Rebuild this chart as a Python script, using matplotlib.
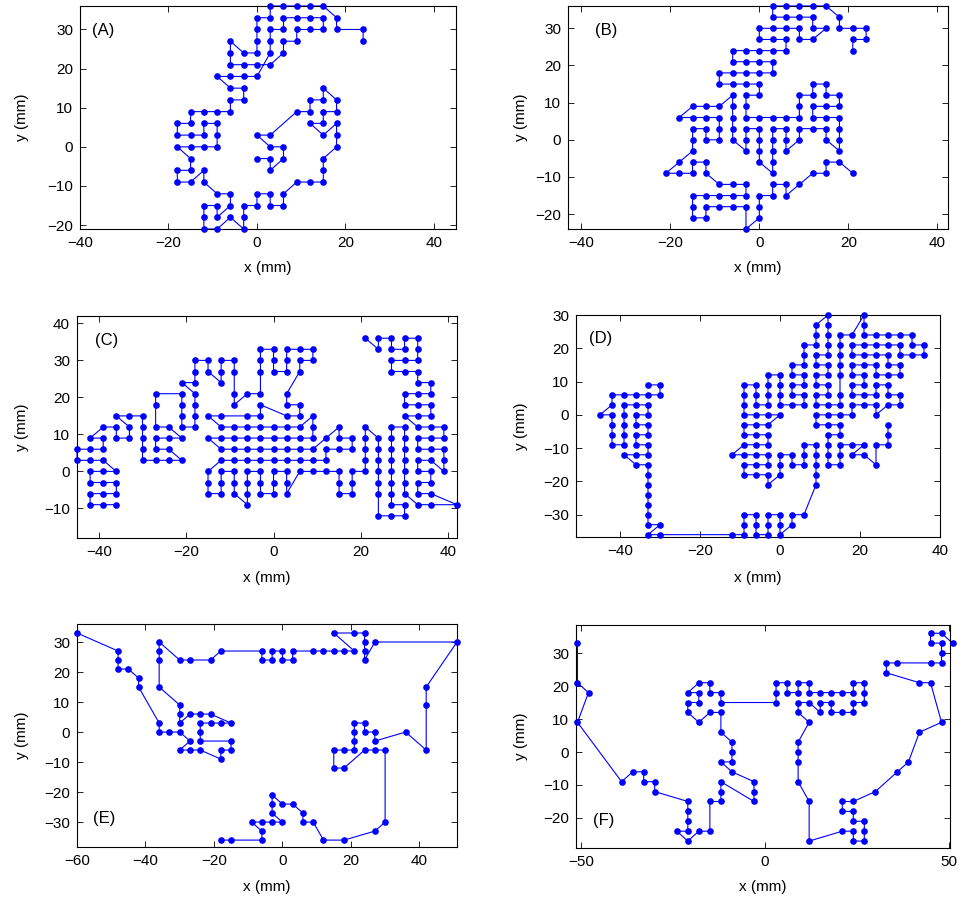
import matplotlib
matplotlib.use('Agg')
import matplotlib.pyplot as plt

plt.rcParams['font.family'] = ['Liberation Sans', 'DejaVu Sans']

# tours, (x, y) in mm, in drawing order
path_a = [(24, 27), (24, 30), (18, 30), (18, 33), (15, 36), (12, 36), (9, 36), (6, 36), (3, 36), (3, 33),
          (0, 33), (0, 30), (0, 27), (0, 24), (-3, 24), (-6, 27), (-6, 24), (-6, 21), (-3, 21), (0, 21),
          (3, 21), (6, 24), (6, 27), (9, 27), (9, 30), (12, 30), (15, 30), (15, 33), (12, 33), (9, 33),
          (6, 33), (6, 30), (3, 30), (3, 27), (3, 24), (0, 18), (-3, 18), (-6, 18), (-9, 18), (-6, 15),
          (-3, 15), (-3, 12), (-6, 12), (-6, 9), (-9, 9), (-12, 9), (-15, 9), (-15, 6), (-18, 6), (-18, 3),
          (-15, 3), (-12, 3), (-12, 6), (-9, 6), (-9, 3), (-9, 0), (-12, 0), (-15, 0), (-18, 0), (-15, -3),
          (-15, -6), (-18, -6), (-18, -9), (-15, -9), (-12, -6), (-12, -9), (-9, -12), (-6, -12), (-6, -15),
          (-9, -18), (-9, -15), (-12, -15), (-12, -18), (-12, -21), (-9, -21), (-6, -18), (-3, -21), (-3, -18),
          (-3, -15), (0, -15), (0, -12), (3, -12), (3, -15), (6, -15), (6, -12), (9, -9), (12, -9), (15, -9),
          (15, -6), (15, -3), (18, 0), (18, 3), (18, 6), (15, 3), (12, 6), (15, 6), (15, 9), (18, 9),
          (18, 12), (15, 15), (15, 12), (12, 12), (12, 9), (9, 9), (3, 3), (0, 3), (3, 0), (6, 0),
          (6, -3), (3, -6), (3, -3), (0, -3)]

path_b = [(21, 24), (21, 27), (24, 27), (24, 30), (21, 30), (18, 30), (18, 33), (15, 36), (12, 36), (9, 36),
          (6, 36), (3, 36), (3, 33), (6, 33), (9, 33), (12, 33), (12, 30), (15, 30), (12, 27), (9, 27),
          (9, 30), (6, 30), (3, 30), (0, 30), (0, 27), (3, 27), (6, 27), (6, 24), (3, 24), (0, 24),
          (-3, 24), (-6, 24), (-6, 21), (-3, 21), (0, 21), (3, 21), (3, 18), (0, 18), (-3, 18), (-6, 18),
          (-9, 18), (-9, 15), (-6, 15), (-3, 15), (0, 15), (0, 12), (-3, 12), (-3, 9), (-3, 6), (0, 6),
          (3, 6), (6, 6), (9, 6), (9, 9), (9, 12), (12, 12), (12, 15), (15, 15), (15, 12), (18, 12),
          (18, 9), (15, 9), (12, 9), (12, 6), (15, 6), (18, 6), (18, 3), (18, 0), (18, -3), (15, 0),
          (15, 3), (12, 3), (9, 3), (9, 0), (6, -3), (6, 0), (6, 3), (3, 3), (3, 0), (3, -3),
          (3, -6), (3, -9), (0, -6), (0, -3), (0, 0), (0, 3), (-3, 3), (-3, 0), (-3, -3), (-6, 0),
          (-6, 3), (-6, 6), (-6, 9), (-6, 12), (-9, 9), (-12, 9), (-15, 9), (-18, 6), (-15, 6), (-12, 6),
          (-9, 6), (-9, 3), (-9, 0), (-12, 0), (-12, 3), (-15, 3), (-15, 0), (-15, -3), (-18, -6), (-21, -9),
          (-18, -9), (-15, -9), (-15, -6), (-12, -6), (-12, -9), (-9, -12), (-6, -12), (-3, -12), (-3, -15),
          (-6, -15), (-9, -15), (-12, -15), (-15, -15), (-15, -18), (-15, -21), (-12, -21), (-12, -18),
          (-9, -18), (-6, -18), (-3, -18), (-3, -24), (0, -21), (0, -18), (0, -15), (3, -15), (3, -12),
          (6, -12), (6, -15), (9, -12), (12, -9), (15, -9), (15, -6), (18, -6), (21, -9)]

path_c = [(-36, -9), (-39, -9), (-42, -9), (-42, -6), (-39, -6), (-36, -6), (-36, -3), (-39, -3), (-42, -3),
          (-42, 0), (-39, 0), (-36, 0), (-39, 3), (-42, 3), (-45, 3), (-45, 6), (-42, 6), (-39, 6), (-39, 9),
          (-42, 9), (-39, 12), (-36, 12), (-36, 9), (-33, 9), (-33, 12), (-36, 15), (-33, 15), (-30, 15),
          (-30, 12), (-30, 9), (-30, 6), (-30, 3), (-27, 3), (-24, 3), (-21, 3), (-24, 6), (-27, 6), (-27, 9),
          (-24, 9), (-21, 9), (-24, 12), (-27, 12), (-27, 18), (-27, 21), (-21, 21),
          (-21, 18), (-21, 15), (-21, 12), (-18, 12), (-18, 15), (-18, 18), (-18, 21), (-21, 24), (-18, 24),
          (-18, 27), (-18, 30), (-15, 30), (-15, 27), (-12, 24), (-12, 27), (-12, 30), (-9, 30), (-9, 27),
          (-9, 21), (-9, 18), (-6, 21), (-3, 21), (-3, 27), (-3, 30), (-3, 33), (0, 33), (0, 30), (0, 27),
          (3, 27), (3, 30), (3, 33), (6, 33), (9, 33), (9, 30), (6, 30), (6, 27), (3, 21), (3, 18),
          (6, 18), (6, 15), (3, 15), (-3, 18), (-3, 15), (-6, 15), (-12, 15), (-15, 15), (-12, 12), (-9, 12),
          (-6, 12), (-3, 12), (0, 12), (3, 12), (6, 12), (9, 15), (9, 12), (9, 9), (6, 9), (3, 9),
          (0, 9), (-3, 9), (-6, 9), (-9, 9), (-12, 9), (-15, 9), (-12, 6), (-9, 6), (-6, 6), (-3, 6),
          (0, 6), (3, 6), (6, 6), (9, 6), (12, 9), (15, 12), (15, 9), (18, 9), (18, 6), (15, 6),
          (12, 6), (12, 3), (9, 3), (6, 3), (3, 3), (0, 3), (-3, 3), (-6, 3), (-9, 3), (-12, 3),
          (-15, 0), (-15, -3), (-15, -6), (-12, -6), (-12, -3), (-12, 0), (-9, 0), (-9, -3), (-9, -6),
          (-6, -9), (-6, -6), (-6, -3), (-6, 0), (-3, 0), (-3, -3), (-3, -6), (0, -6), (0, -3), (0, 0),
          (3, 0), (3, -3), (3, -6), (6, 0), (9, 0), (12, 0), (15, 0), (15, -3), (15, -6), (18, -6),
          (18, -3), (18, 0), (21, 0), (21, 3), (21, 6), (21, 9), (21, 12), (24, 9), (24, 6), (24, 3),
          (24, 0), (24, -3), (24, -6), (24, -12), (27, -12), (30, -12), (30, -9), (27, -9), (27, -6),
          (27, -3), (27, 0), (27, 3), (27, 6), (27, 9), (27, 12), (30, 12), (30, 9), (30, 6), (30, 3),
          (30, 0), (30, -3), (30, -6), (33, -9), (36, -9), (42, -9), (36, -6), (33, -6), (33, -3), (36, -3),
          (36, 0), (33, 0), (33, 3), (36, 3), (39, 0), (39, 3), (39, 6), (36, 6), (33, 6), (33, 9),
          (36, 9), (39, 9), (39, 12), (36, 12), (33, 12), (30, 15), (33, 15), (36, 15), (36, 18), (33, 18),
          (30, 18), (30, 21), (33, 21), (36, 21), (36, 24), (33, 24), (33, 27), (30, 27), (27, 27), (27, 30),
          (30, 30), (33, 30), (33, 33), (33, 36), (30, 36), (30, 33), (27, 33), (27, 36), (24, 36), (24, 33),
          (21, 36)]

path_d = [(-33, 9), (-30, 9), (-30, 6), (-33, 6), (-36, 6), (-39, 6), (-42, 6), (-42, 3), (-45, 0), (-42, 0),
          (-42, -3), (-42, -6), (-42, -9), (-39, -9), (-39, -6), (-39, -3), (-39, 0), (-39, 3), (-36, 3),
          (-33, 3), (-33, 0), (-36, 0), (-36, -3), (-33, -3), (-33, -6), (-36, -6), (-36, -9), (-33, -9),
          (-33, -12), (-36, -12), (-39, -12), (-36, -15), (-33, -15), (-33, -18), (-33, -21), (-33, -24),
          (-33, -27), (-33, -30), (-33, -33), (-30, -33), (-33, -36), (-30, -36), (-12, -36), (-9, -36),
          (-9, -33), (-9, -30), (-6, -30), (-6, -33), (-6, -36), (-3, -36), (-3, -33), (-3, -30), (0, -30),
          (0, -33), (0, -36), (3, -33), (3, -30), (6, -30), (9, -21), (9, -18), (9, -15), (9, -12), (9, -9),
          (6, -9), (6, -12), (6, -15), (3, -15), (3, -12), (0, -12), (0, -15), (0, -18), (-3, -21), (-3, -18),
          (-6, -18), (-9, -18), (-9, -15), (-6, -15), (-3, -15), (-3, -12), (-6, -12), (-9, -12), (-12, -12),
          (-9, -9), (-6, -9), (-3, -9), (-3, -6), (-6, -6), (-9, -6), (-9, -3), (-6, -3), (-3, -3), (0, 0),
          (-3, 0), (-6, 0), (-9, 0), (-9, 3), (-9, 6), (-9, 9), (-6, 9), (-6, 6), (-6, 3), (-3, 3),
          (-3, 6), (-3, 9), (-3, 12), (0, 12), (0, 9), (0, 6), (0, 3), (3, 3), (6, 3), (6, 6),
          (3, 6), (3, 9), (6, 9), (6, 12), (3, 12), (3, 15), (6, 15), (6, 18), (6, 21),
          (9, 21), (9, 24), (9, 27), (12, 30), (12, 27), (12, 24), (12, 21), (12, 18), (9, 18), (9, 15),
          (12, 15), (12, 12), (9, 12), (9, 9), (12, 9), (12, 6), (9, 6), (9, 3), (12, 3), (15, 3),
          (15, 6), (15, 12), (15, 15), (15, 18), (15, 21), (15, 24), (18, 24), (21, 30), (21, 27), (21, 24),
          (24, 24), (27, 24), (30, 24), (33, 24), (33, 21), (36, 21), (36, 18), (33, 18), (30, 18), (30, 21),
          (27, 21), (24, 21), (21, 21), (18, 21), (18, 18), (21, 18), (24, 18), (27, 18), (27, 15), (30, 15),
          (30, 12), (27, 12), (24, 12), (24, 15), (21, 15), (18, 15), (18, 12), (21, 12), (21, 9), (18, 9),
          (18, 6), (21, 6), (24, 6), (24, 9), (27, 9), (27, 6), (30, 6), (30, 3), (27, 3), (24, 0),
          (24, 3), (21, 3), (18, 3), (18, 0), (15, 0), (12, 0), (9, 0), (9, -3), (12, -3), (15, -3),
          (15, -6), (12, -6), (12, -9), (12, -12), (12, -15), (15, -15), (15, -12), (15, -9), (18, -9),
          (21, -9), (18, -12), (21, -12), (24, -15), (24, -9), (27, -9), (27, -6), (27, -3)]

path_e = [(-60, 33), (-48, 27), (-48, 24), (-48, 21), (-45, 21), (-42, 18), (-42, 15), (-36, 3), (-36, 0),
          (-33, 0), (-30, 0), (-27, -3), (-30, -6), (-27, -6), (-24, -6), (-18, -9), (-18, -6), (-15, -6),
          (-15, -3), (-24, -3), (-24, 0), (-24, 3), (-21, 3), (-18, 3), (-15, 3), (-21, 6), (-24, 6),
          (-27, 6), (-30, 3), (-30, 6), (-30, 9), (-36, 15), (-36, 24), (-36, 27), (-36, 30), (-30, 24),
          (-27, 24), (-21, 24), (-18, 27), (-6, 27), (-6, 24), (-3, 24), (-3, 27), (0, 27), (0, 24), (3, 24),
          (3, 27), (9, 27), (12, 27), (15, 27), (18, 27), (21, 27), (15, 33), (21, 33), (24, 33), (24, 30),
          (24, 27), (24, 24), (27, 30), (51, 30), (42, 15), (42, 9), (42, -6), (36, 0), (27, -3), (27, 0),
          (24, 0), (24, 3), (21, 3), (21, 0), (21, -3), (21, -6), (18, -6), (15, -6), (15, -12), (18, -12),
          (24, -6), (27, -6), (30, -6), (30, -30), (27, -33), (18, -36), (12, -36), (9, -30), (6, -30),
          (6, -27), (3, -24), (0, -24), (-3, -21), (-3, -24), (-3, -27), (0, -30), (-3, -30), (-6, -30),
          (-9, -30), (-6, -33), (-6, -36), (-15, -36), (-18, -36)]

path_f = [(-51, 33), (-51, 21), (-48, 18), (-51, 9), (-39, -9), (-36, -6), (-33, -6), (-33, -9), (-30, -9),
          (-30, -12), (-21, -15), (-21, -18), (-21, -21), (-21, -24), (-24, -24), (-21, -27), (-18, -24),
          (-15, -24), (-15, -15), (-12, -15), (-12, -12), (-12, -9), (-3, -15), (-3, -12), (-3, -9), (-9, -6),
          (-12, -3), (-9, -3), (-9, 0), (-9, 3), (-12, 6), (-12, 12), (-15, 12), (-18, 9), (-21, 12),
          (-21, 15), (-18, 15), (-18, 18), (-21, 18), (-18, 21), (-15, 21), (-15, 18), (-12, 18), (-12, 15),
          (3, 15), (3, 18), (3, 21), (6, 21), (6, 18), (9, 18), (9, 21), (12, 21), (12, 18), (15, 18),
          (18, 18), (21, 18), (24, 18), (24, 21), (27, 21), (27, 18), (27, 15), (24, 15), (24, 12), (21, 12),
          (18, 12), (18, 15), (15, 15), (15, 12), (12, 15), (9, 15), (9, 12), (12, 9), (9, 3), (9, 0),
          (9, -3), (9, -9), (12, -15), (12, -27), (21, -24), (24, -24), (24, -27), (27, -27), (27, -24),
          (27, -21), (24, -21), (24, -18), (21, -18), (21, -15), (24, -15), (30, -12), (36, -6), (39, -3),
          (42, 6), (48, 9), (45, 21), (42, 21), (33, 24), (33, 27), (36, 27), (45, 27), (48, 27), (48, 30),
          (48, 33), (45, 33), (45, 36), (48, 36), (51, 33)]

paths = [path_a, path_b, path_c, path_d, path_e, path_f]
letters = ['(A)', '(B)', '(C)', '(D)', '(E)', '(F)']

x_limits = [(-40, 45), (-43, 42.4), (-45, 42), (-51, 40), (-60, 51), (-51.4, 50.3)]
y_limits = [(-21, 36), (-24, 36), (-18, 42), (-36.7, 30), (-38.3, 36), (-29.1, 38.5)]
x_ticks = [[-40, -20, 0, 20, 40], [-40, -20, 0, 20, 40], [-40, -20, 0, 20, 40],
           [-40, -20, 0, 20, 40], [-60, -40, -20, 0, 20, 40], [-50, 0, 50]]
y_ticks = [[-20, -10, 0, 10, 20, 30], [-20, -10, 0, 10, 20, 30], [-10, 0, 10, 20, 30, 40],
           [-30, -20, -10, 0, 10, 20, 30], [-30, -20, -10, 0, 10, 20, 30], [-20, -10, 0, 10, 20, 30]]

# layout in pixels: axes box (left, right, top, bottom), letter pos, label pos
W, H = 964, 909
boxes = [(80, 456, 6, 229), (568, 948, 6, 229), (77, 457, 316, 538),
         (576, 940, 315, 537), (77, 457, 624, 847), (576, 950, 625, 848)]
letter_xy = [(92, 30), (595, 30), (95, 340), (589, 338), (93, 818), (593, 820)]
xlabel_y = [268, 268, 578, 578, 887, 887]
ylabel_x = [22, 521, 22, 521, 22, 521]

fig = plt.figure(figsize=(W / 100, H / 100), dpi=100)

for i in range(6):
    l, r, t, b = boxes[i]
    ax = fig.add_axes([l / W, 1 - b / H, (r - l) / W, (b - t) / H])
    xs = [p[0] for p in paths[i]]
    ys = [p[1] for p in paths[i]]
    ax.plot(xs, ys, '-', color='blue', lw=0.8, clip_on=False, zorder=2)
    ax.plot(xs, ys, 'o', color='blue', ms=4.8, mew=0, clip_on=False, zorder=3)

    ax.set_xlim(*x_limits[i])
    ax.set_ylim(*y_limits[i])
    ax.set_xticks(x_ticks[i])
    ax.set_yticks(y_ticks[i])
    ax.set_xticklabels([str(v).replace('-', '\u2212') for v in x_ticks[i]])
    ax.set_yticklabels([str(v).replace('-', '\u2212') for v in y_ticks[i]])
    ax.tick_params(direction='in', top=True, right=True, length=4, width=0.6,
                   labelsize=11, pad=5)
    for s in ax.spines.values():
        s.set_linewidth(0.8)

    ax.set_xlabel('x (mm)', fontsize=11, va='center')
    ax.xaxis.set_label_coords(0.5, (b - xlabel_y[i]) / (b - t))
    ax.set_ylabel('y (mm)', fontsize=11, va='center')
    ax.yaxis.set_label_coords((ylabel_x[i] - l) / (r - l), 0.5)

    lx, ly = letter_xy[i]
    ax.text((lx - l) / (r - l), (b - ly) / (b - t), letters[i], transform=ax.transAxes,
            fontsize=12, ha='left', va='center')

fig.savefig('out.png', dpi=100)
